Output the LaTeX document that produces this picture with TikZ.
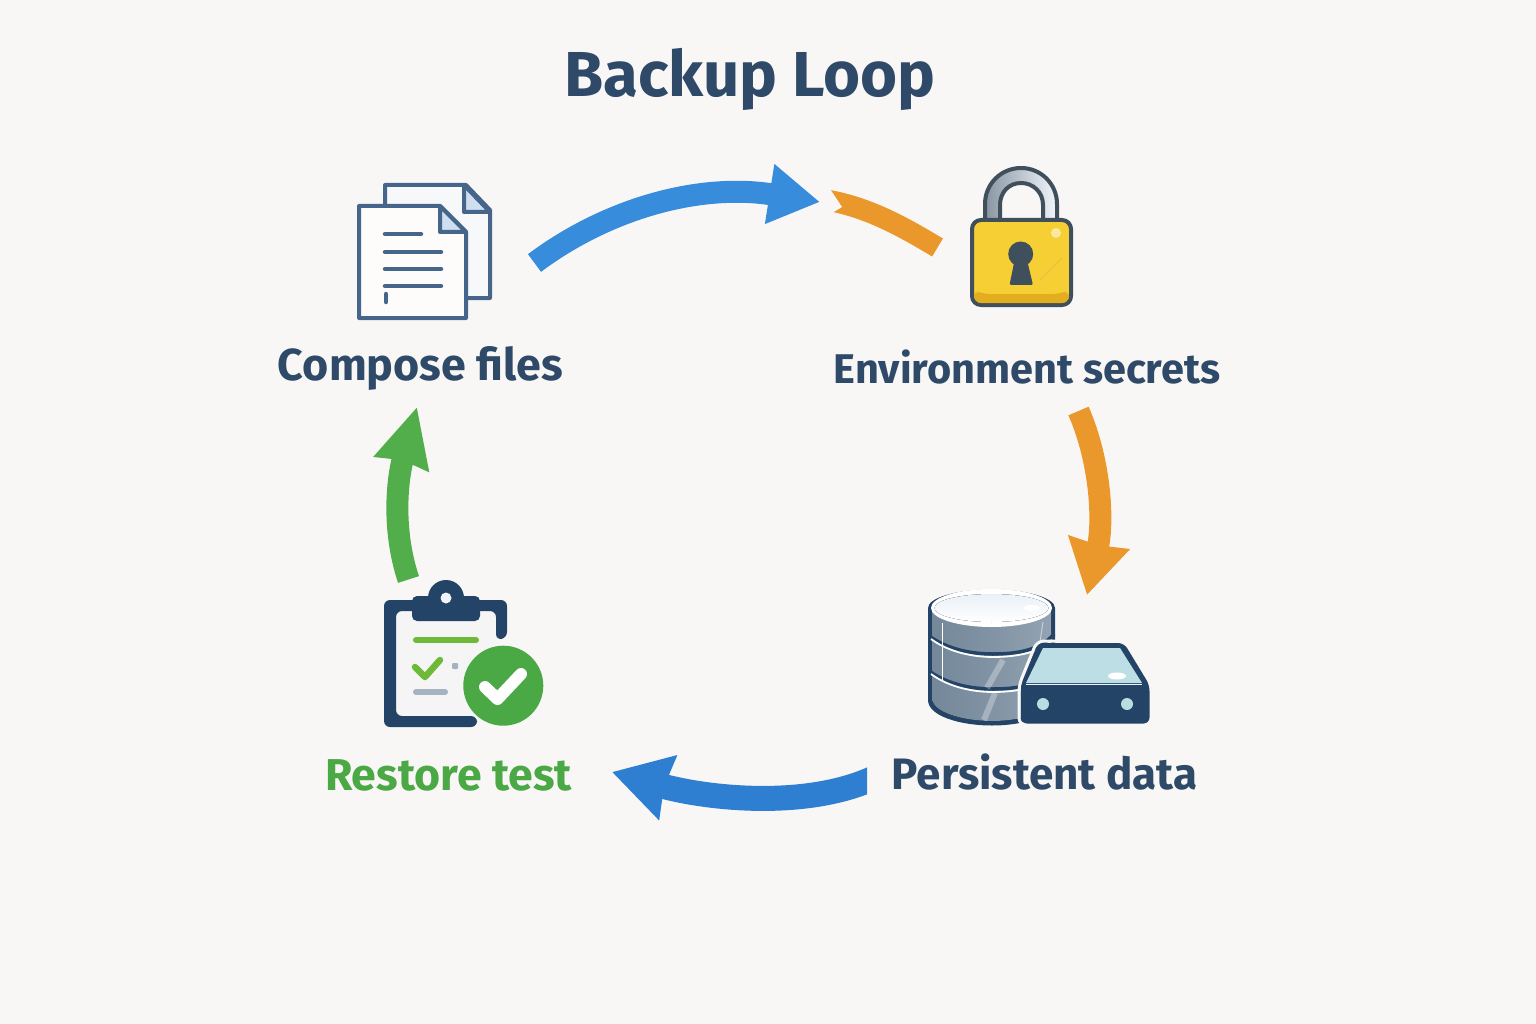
\documentclass[tikz,border=0pt]{standalone}
\usepackage{fontspec}
\setmainfont{Fira Sans}
\usetikzlibrary{arrows.meta,positioning,calc}
\definecolor{paper}{HTML}{F9F7F5}
\definecolor{ink}{HTML}{2F4A68}
\definecolor{navy}{HTML}{234466}
\definecolor{slateline}{HTML}{46658A}
\definecolor{foldblue}{HTML}{CFDFF0}
\definecolor{flowblue}{HTML}{378CDC}
\definecolor{flowblue2}{HTML}{2E7FD2}
\definecolor{floworange}{HTML}{EA982B}
\definecolor{flowgreen}{HTML}{52AE4A}
\definecolor{okgreen}{HTML}{4AA845}
\definecolor{lockdark}{HTML}{3F4F5C}
\definecolor{lockgold}{HTML}{F5CF33}
\definecolor{lockshade}{HTML}{E2AE1F}
\definecolor{lockspot}{HTML}{FBE8A0}
\definecolor{lockscratch}{HTML}{E8BE3C}
\definecolor{drivelight}{HTML}{BEDEE6}
\definecolor{drivedot}{HTML}{B9DDE0}
\definecolor{dbgrey}{HTML}{8193A4}
\definecolor{dbgreyl}{HTML}{93A3B1}
\definecolor{dbgreyd}{HTML}{74889A}
\tikzset{
	lbl/.style={inner sep=0pt, anchor=base, text=ink, font=\bfseries\fontsize{#1}{48}\selectfont},
	flow/.style={line width=#1, line cap=butt},
	docline/.style={draw=slateline, line width=4.5pt, line cap=round},
	docs/.pic={
		\fill[foldblue!20!white!70!paper] (385,185) -- (466,185) -- (490,210) -- (490,298) -- (385,298) -- cycle;
		\draw[slateline, line width=4pt, line join=round]
		(385,205) -- (385,185) -- (466,185) -- (490,210) -- (490,298) -- (467,298);
		\draw[slateline, line width=4pt, fill=foldblue, line join=round]
		(464,185) -- (464,212) -- (490,212) -- cycle;
		\draw[slateline, line width=4pt, fill=white!60!paper, line join=round]
		(359,206) -- (440,206) -- (466,232) -- (466,318) -- (359,318) -- cycle;
		\draw[slateline, line width=4pt, fill=foldblue, line join=round]
		(440,206) -- (440,232) -- (466,232) -- cycle;
		\foreach \Row/\Stop in {234/421,252/441,269/441,286/441}
		\draw[docline] (385,\Row) -- (\Stop,\Row);
		\draw[docline] (386,294) -- (386,302);
	},
	padlock/.pic={
		\draw[lockdark, line width=4pt, left color=black!25!foldblue!80!lockdark, right color=white!70!foldblue]
		(985,222) -- (985,204) .. controls (985,184) and (1001,168) .. (1021,168)
		.. controls (1041,168) and (1057,184) .. (1057,204) -- (1057,222) -- (1043,222) -- (1043,205)
		.. controls (1043,192) and (1033,183) .. (1021,183)
		.. controls (1009,183) and (1000,192) .. (1000,205) -- (1000,222) -- cycle;
		\draw[lockdark, line width=4pt, rounded corners=9pt, fill=lockgold]
		(972,220) rectangle (1071,305);
		\fill[rounded corners=7pt, lockshade] (974,290) -- (974,303) -- (1069,303) -- (1069,290) -- (1060,294) -- (983,294) -- cycle;
		\fill[lockspot] (1056,233) circle[radius=5];
		\draw[lockscratch, line width=1pt] (1040,280) -- (1062,258);
		\fill[lockdark] (1020.7,254) circle[radius=12.5];
		\fill[lockdark, rounded corners=2pt] (1015,258) -- (1009.5,285) -- (1033,285) -- (1026.5,258) -- cycle;
	},
	database/.pic={
		\fill[navy] (928,608) -- (928,700) .. controls (928,716) and (960,725.5) .. (992,725.5)
		.. controls (1024,725.5) and (1055,716) .. (1055,700) -- (1055,608) -- cycle;
		\fill[navy] (991.5,608) ellipse[x radius=63.5, y radius=18.5];
		\fill[left color=dbgreyd, right color=dbgreyl, middle color=dbgrey]
		(932,608) -- (932,698) .. controls (932,712) and (962,721) .. (992,721)
		.. controls (1022,721) and (1051,712) .. (1051,698) -- (1051,608) -- cycle;
		\foreach \Drop in {0,35}{
			\draw[navy, line width=3.5pt] (929,{636+\Drop}) .. controls (950,{651+\Drop}) and (975,{654+\Drop}) .. (993,{654+\Drop}) .. controls (1015,{654+\Drop}) and (1040,{651+\Drop}) .. (1054,{634+\Drop});
			\draw[white, line width=1.8pt] (931,{639+\Drop}) .. controls (950,{653+\Drop}) and (975,{657+\Drop}) .. (993,{657+\Drop}) .. controls (1015,{657+\Drop}) and (1040,{653+\Drop}) .. (1052,{640+\Drop});
		}
		\draw[white, line width=1pt] (942,623) -- (942,682);
		\draw[white, opacity=.3, line width=6pt] (1003,660) -- (987,688);
		\draw[white, opacity=.3, line width=6pt] (995,693) -- (984,720);
		\draw[white, opacity=.5, line width=1pt] (1043,622) -- (1040,642);
		\fill[white] (991.5,608) ellipse[x radius=60.5, y radius=19];
		\fill[top color=foldblue!45!white, bottom color=white] (991.5,608) ellipse[x radius=57, y radius=14];
		\fill[white] (1032,608) ellipse[x radius=8, y radius=3];
		\draw[paper, line width=3pt, rounded corners=7pt]
		(1019,725) -- (1019,685) -- (1037,641) -- (1125,641) -- (1151,685) -- (1151,725) -- cycle;
		\fill[navy, rounded corners=6pt]
		(1021,723.5) -- (1021,685) -- (1038,643) -- (1124,643) -- (1149.5,685) -- (1149.5,723.5) -- cycle;
		\fill[drivelight] (1043,648) -- (1120,648) -- (1142,683) -- (1026,683) -- cycle;
		\draw[white!70!foldblue, line width=1pt] (1026,684) -- (1142,684);
		\fill[white] (1117,676) ellipse[x radius=9, y radius=3.5];
		\foreach \Dot in {1043,1127}
		\fill[drivedot] (\Dot,704) circle[radius=6];
	},
	clipboard/.pic={
		\fill[white!50!foldblue!20!paper] (390,605) rectangle (500,722);
		\fill[navy, rounded corners=6pt]
		(384,600) -- (507,600) -- (507,638) -- (496,640) -- (496,611) -- (396,611) -- (396,716) -- (477,716) -- (477,727) -- (384,727) -- cycle;
		\fill[navy, rounded corners=5pt] (412,596) rectangle (480,621);
		\fill[navy] (446,598) circle[radius=18];
		\fill[white!70!foldblue] (446,598) circle[radius=5.5];
		\draw[okgreen!80!yellow, line width=6pt, line cap=round] (416,640) -- (476,640);
		\draw[okgreen!80!yellow, line width=6.5pt, line cap=round, line join=round] (415,667) -- (425,677) -- (440,660);
		\fill[black!20!foldblue, rounded corners=1pt] (452,663) rectangle (458,669);
		\draw[black!20!foldblue, line width=6pt, line cap=round] (416,692) -- (445,692);
		\fill[okgreen] (503.3,685.7) circle[radius=40];
		\draw[white, line width=12pt, line cap=round, line join=round] (485,687) -- (497.5,699) -- (521,674);
	},
}

\begin{document}
\begin{tikzpicture}[x=1pt, y=-1pt]
\useasboundingbox (0,0) rectangle (1536,1024);
\fill[paper] (0,0) rectangle (1536,1024);

% the icons
\path (0,0) pic {docs};
\path (0,0) pic {padlock};
\path (0,0) pic {database};
\path (0,0) pic {clipboard};

% the names
\node[lbl=63.5] at (750,97) (title) {Backup Loop};
\node[lbl=44.8] at (420.5,380) (compose) {Compose files};
\node[lbl=41.5] at (1027,383) (secrets) {Environment secrets};
\node[lbl=44] at (1044.5,789) (persist) {Persistent data};
\node[lbl=44.6, text=okgreen] at (448.5,790) (restore) {Restore test};

% the arrow ends
\coordinate (composeout) at (534.5,263);
\coordinate (secretsin) at (820,202);
\coordinate (secretsback) at (937.5,247.5);
\coordinate (secretsnotch) at (829,200.5);
\coordinate (secretsout) at (1078.5,411);
\coordinate (persistin) at (1087,595);
\coordinate (persistout) at (875,777.5);
\coordinate (restorein) at (612,772);
\coordinate (restoreout) at (408.5,579.5);
\coordinate (composein) at (417,407);

% the arrows
\draw[flow=22pt, flowblue, -{Stealth[length=51pt, width=57pt, inset=0pt]}]
(composeout) .. controls (608,208) and (700,183) .. (secretsin);
\draw[flow=21pt, floworange] (secretsback) .. controls (905,228) and (870,208) .. (secretsnotch);
\fill[paper] (826,183) -- (842,207) -- (822,219) -- cycle;
\draw[flow=22pt, floworange, -{Stealth[length=53pt, width=60pt, inset=2pt]}]
(secretsout) .. controls (1100,460) and (1104,520) .. (persistin);
\begin{scope}
\clip (600,740) rectangle (867,830);
\draw[flow=25pt, flowblue2, -{Stealth[length=57pt, width=64pt, inset=3pt]}]
(persistout) .. controls (805,810) and (705,798) .. (restorein);
\end{scope}
\draw[flow=22pt, flowgreen, -{Stealth[length=58pt, width=54pt, inset=3pt]}]
(restoreout) .. controls (392,530) and (397,480) .. (composein);
\end{tikzpicture}
\end{document}
